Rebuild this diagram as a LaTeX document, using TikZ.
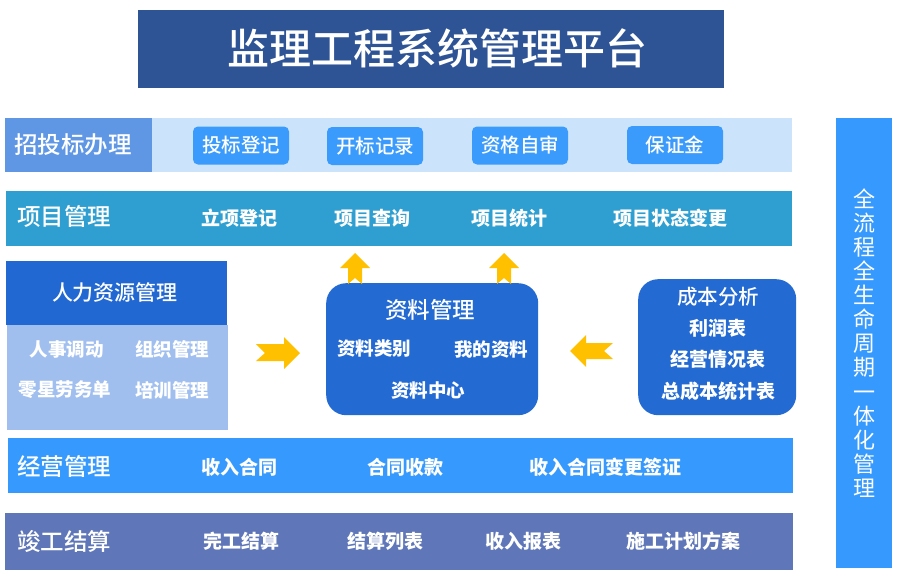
\documentclass[tikz,border=0pt]{standalone}
\usepackage{fontspec}
\newfontfamily\cjk{Noto Sans CJK SC}
\newfontfamily\cjkm{Noto Sans CJK SC Medium}
\definecolor{titlebg}{HTML}{2E5496}
\definecolor{zbleft}{HTML}{5F97E5}
\definecolor{zbband}{HTML}{CCE4FB}
\definecolor{btn}{HTML}{3A9BFC}
\definecolor{teal}{HTML}{2E9FD0}
\definecolor{hrhead}{HTML}{2268D2}
\definecolor{hrbody}{HTML}{A0BFEE}
\definecolor{databox}{HTML}{236AD3}
\definecolor{jybg}{HTML}{3699FD}
\definecolor{jgbg}{HTML}{5F77B8}
\definecolor{arrowc}{HTML}{FFC000}
\tikzset{
  band/.style={draw=none, inner sep=0pt, anchor=north west},
  head/.style={text=white, font=\cjkm\fontsize{23.5}{23.5}\selectfont, anchor=west, inner sep=0pt},
  item/.style={text=white, font=\cjk\bfseries\fontsize{19}{19}\selectfont, inner sep=0pt},
  btnbox/.style={fill=btn, rounded corners=5pt, minimum width=96pt, minimum height=38pt, text=white, font=\cjkm\fontsize{19.5}{19.5}\selectfont, inner sep=0pt},
  yarrow/.style={fill=arrowc, draw=none},
}
\begin{document}
\begin{tikzpicture}[x=1pt,y=-1pt]
\useasboundingbox (0,0) rectangle (903,570);
\fill[white] (0,0) rectangle (903,570);
% title
\node[band, fill=titlebg, minimum width=586pt, minimum height=78pt] (title) at (138,10) {};
\node[text=white, font=\cjkm\fontsize{42}{42}\selectfont, inner sep=0pt] (titletext) at (437,48) {监理工程系统管理平台};
% row 1
\node[band, fill=zbband, minimum width=640pt, minimum height=54pt] (r1band) at (152,118) {};
\node[band, fill=zbleft, minimum width=147pt, minimum height=54pt] (r1left) at (5,118) {};
\node[head] (r1head) at (14,145) {招投标办理};
\node[btnbox] (b1) at (241,145.5) {投标登记};
\node[btnbox] (b2) at (375,146) {开标记录};
\node[btnbox] (b3) at (520,145.5) {资格自审};
\node[btnbox] (b4) at (675,145) {保证金};
% row 2
\node[band, fill=teal, minimum width=786pt, minimum height=55pt] (r2) at (6,191) {};
\node[head] (r2head) at (17,217) {项目管理};
\node[item] (r2a) at (239,218) {立项登记};
\node[item] (r2b) at (372,218) {项目查询};
\node[item] (r2c) at (509,218) {项目统计};
\node[item] (r2d) at (670,218) {项目状态变更};
% HR block
\node[band, fill=hrbody, minimum width=221pt, minimum height=105pt] (hrb) at (7,325) {};
\node[band, fill=hrhead, minimum width=221pt, minimum height=64pt] (hrh) at (6,261) {};
\node[text=white, font=\cjkm\fontsize{21}{21}\selectfont, inner sep=0pt] (hrt) at (115,293) {人力资源管理};
\node[item, font=\cjk\bfseries\fontsize{18.5}{18.5}\selectfont] (hr1) at (67,349) {人事调动};
\node[item, font=\cjk\bfseries\fontsize{18.5}{18.5}\selectfont] (hr2) at (172,349) {组织管理};
\node[item, font=\cjk\bfseries\fontsize{18.5}{18.5}\selectfont] (hr3) at (65,390) {零星劳务单};
\node[item, font=\cjk\bfseries\fontsize{18.5}{18.5}\selectfont] (hr4) at (172,390) {培训管理};
% data box
\node[band, fill=databox, rounded corners=20pt, minimum width=212pt, minimum height=132pt] (data) at (326,283) {};
\node[text=white, font=\cjkm\fontsize{22.5}{22.5}\selectfont, inner sep=0pt] (datat) at (430,310) {资料管理};
\node[item, font=\cjk\bfseries\fontsize{18.5}{18.5}\selectfont] (d1) at (374,349) {资料类别};
\node[item, font=\cjk\bfseries\fontsize{18.5}{18.5}\selectfont] (d2) at (491,349) {我的资料};
\node[item, font=\cjk\bfseries\fontsize{18.5}{18.5}\selectfont] (d3) at (428,390) {资料中心};
% cost box
\node[band, fill=databox, rounded corners=20pt, minimum width=158pt, minimum height=136pt] (cost) at (638,279) {};
\node[text=white, font=\cjkm\fontsize{20.5}{20.5}\selectfont, inner sep=0pt] (costt) at (718,297) {成本分析};
\node[item] (c1) at (718,328) {利润表};
\node[item] (c2) at (718,359) {经营情况表};
\node[item] (c3) at (718,391) {总成本统计表};
% arrows
\fill[yarrow] (256,344) -- (284,344) -- (284,337) -- (300,353) -- (284,369) -- (284,361) -- (256,361) -- (265,353) -- cycle;
\fill[yarrow] (570,351) -- (586,335) -- (586,343) -- (613,343) -- (604,351) -- (613,359) -- (586,359) -- (586,367) -- cycle;
\fill[yarrow] (355,253) -- (370,268) -- (362,268) -- (362,284) -- (355,278) -- (348,284) -- (348,268) -- (340,268) -- cycle;
\fill[yarrow] (504,253) -- (519,268) -- (511,268) -- (511,284) -- (504,278) -- (497,284) -- (497,268) -- (489,268) -- cycle;
% row jy
\node[band, fill=jybg, minimum width=785pt, minimum height=55pt] (r3) at (8,438) {};
\node[head] (r3head) at (17,467) {经营管理};
\node[item] (r3a) at (239,467) {收入合同};
\node[item] (r3b) at (405,467) {合同收款};
\node[item] (r3c) at (605,467) {收入合同变更签证};
% row jg
\node[band, fill=jgbg, minimum width=788pt, minimum height=57pt] (r4) at (5,513) {};
\node[head] (r4head) at (17,541) {竣工结算};
\node[item] (r4a) at (241,541) {完工结算};
\node[item] (r4b) at (385,541) {结算列表};
\node[item] (r4c) at (523,541) {收入报表};
\node[item] (r4d) at (683,541) {施工计划方案};
% right column
\node[band, fill=jybg, minimum width=56pt, minimum height=450pt] (col) at (836,118) {};
\node[text=white, font=\cjk\fontsize{22}{24.1}\selectfont, align=center, inner sep=0pt] (colt) at (864,343) {全\\流\\程\\全\\生\\命\\周\\期\\一\\体\\化\\管\\理};
\end{tikzpicture}
\end{document}
